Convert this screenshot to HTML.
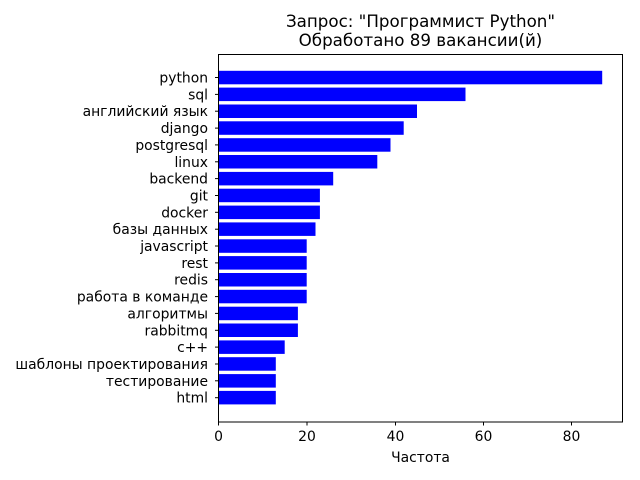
<!DOCTYPE html>
<html><head><meta charset="utf-8"><style>body{margin:0;background:#fff}svg{display:block}</style></head>
<body>
<svg width="640" height="480" xmlns="http://www.w3.org/2000/svg" font-family="DejaVu Sans, sans-serif">
<rect width="640" height="480" fill="#fff"/>
<g fill="#0000ff">
<rect x="218.5" y="70.8" width="383.7" height="13.5"/>
<rect x="218.5" y="87.6" width="247" height="13.5"/>
<rect x="218.5" y="104.5" width="198.5" height="13.5"/>
<rect x="218.5" y="121.3" width="185.2" height="13.5"/>
<rect x="218.5" y="138.2" width="172" height="13.5"/>
<rect x="218.5" y="155" width="158.8" height="13.5"/>
<rect x="218.5" y="171.9" width="114.7" height="13.5"/>
<rect x="218.5" y="188.7" width="101.4" height="13.5"/>
<rect x="218.5" y="205.6" width="101.4" height="13.5"/>
<rect x="218.5" y="222.4" width="97" height="13.5"/>
<rect x="218.5" y="239.3" width="88.2" height="13.5"/>
<rect x="218.5" y="256.1" width="88.2" height="13.5"/>
<rect x="218.5" y="273" width="88.2" height="13.5"/>
<rect x="218.5" y="289.8" width="88.2" height="13.5"/>
<rect x="218.5" y="306.7" width="79.4" height="13.5"/>
<rect x="218.5" y="323.5" width="79.4" height="13.5"/>
<rect x="218.5" y="340.4" width="66.2" height="13.5"/>
<rect x="218.5" y="357.2" width="57.3" height="13.5"/>
<rect x="218.5" y="374.1" width="57.3" height="13.5"/>
<rect x="218.5" y="390.9" width="57.3" height="13.5"/>
</g>
<rect x="218.5" y="54.5" width="404" height="367.5" fill="none" stroke="#000" stroke-width="1"/>
<g stroke="#000" stroke-width="1">
<line x1="218.5" y1="422" x2="218.5" y2="425.5"/>
<line x1="307" y1="422" x2="307" y2="425.5"/>
<line x1="395.5" y1="422" x2="395.5" y2="425.5"/>
<line x1="483.5" y1="422" x2="483.5" y2="425.5"/>
<line x1="571.5" y1="422" x2="571.5" y2="425.5"/>
</g>
<g font-size="13.9" text-anchor="middle" fill="#000">
<text x="218.5" y="441">0</text>
<text x="307" y="441">20</text>
<text x="395.5" y="441">40</text>
<text x="483.5" y="441">60</text>
<text x="571.5" y="441">80</text>
<text x="420.5" y="462">Частота</text>
<text x="420.5" y="27" font-size="16.7">Запрос: "Программист Python"</text>
<text x="420.5" y="46" font-size="16.7">Обработано 89 вакансии(й)</text>
</g>
<g stroke="#000" stroke-width="1" id="yt">
<line x1="215" y1="77.5" x2="218.5" y2="77.5"/><line x1="215" y1="94.4" x2="218.5" y2="94.4"/><line x1="215" y1="111.2" x2="218.5" y2="111.2"/><line x1="215" y1="128.1" x2="218.5" y2="128.1"/><line x1="215" y1="144.9" x2="218.5" y2="144.9"/><line x1="215" y1="161.8" x2="218.5" y2="161.8"/><line x1="215" y1="178.6" x2="218.5" y2="178.6"/><line x1="215" y1="195.5" x2="218.5" y2="195.5"/><line x1="215" y1="212.3" x2="218.5" y2="212.3"/><line x1="215" y1="229.2" x2="218.5" y2="229.2"/><line x1="215" y1="246" x2="218.5" y2="246"/><line x1="215" y1="262.9" x2="218.5" y2="262.9"/><line x1="215" y1="279.7" x2="218.5" y2="279.7"/><line x1="215" y1="296.6" x2="218.5" y2="296.6"/><line x1="215" y1="313.4" x2="218.5" y2="313.4"/><line x1="215" y1="330.3" x2="218.5" y2="330.3"/><line x1="215" y1="347.1" x2="218.5" y2="347.1"/><line x1="215" y1="364" x2="218.5" y2="364"/><line x1="215" y1="380.8" x2="218.5" y2="380.8"/><line x1="215" y1="397.7" x2="218.5" y2="397.7"/>
</g>
<g font-size="13.9" text-anchor="end" fill="#000">
<text x="208" y="82.5">python</text>
<text x="208" y="99.4">sql</text>
<text x="208" y="116.2">английский язык</text>
<text x="208" y="133.1">django</text>
<text x="208" y="149.9">postgresql</text>
<text x="208" y="166.8">linux</text>
<text x="208" y="183.6">backend</text>
<text x="208" y="200.5">git</text>
<text x="208" y="217.3">docker</text>
<text x="208" y="234.2">базы данных</text>
<text x="208" y="251">javascript</text>
<text x="208" y="267.9">rest</text>
<text x="208" y="284.7">redis</text>
<text x="208" y="301.6">работа в команде</text>
<text x="208" y="318.4">алгоритмы</text>
<text x="208" y="335.3">rabbitmq</text>
<text x="208" y="352.1">c++</text>
<text x="208" y="369">шаблоны проектирования</text>
<text x="208" y="385.8">тестирование</text>
<text x="208" y="402.7">html</text>
</g>
</svg>
</body></html>
